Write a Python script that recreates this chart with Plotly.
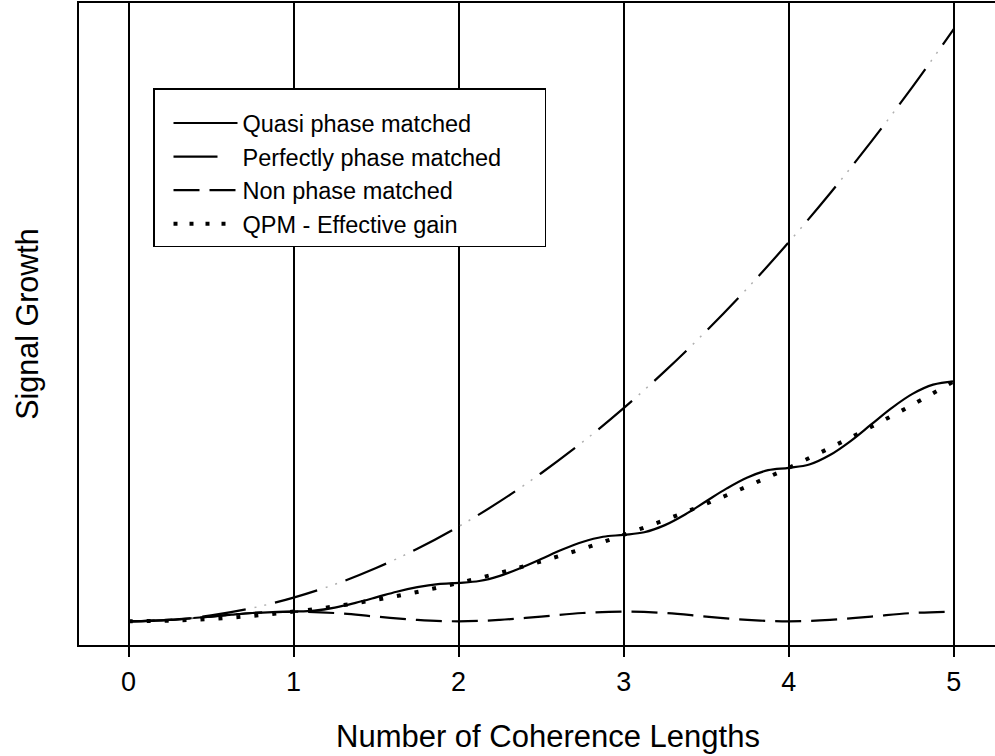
import plotly.graph_objects as go

# Propagation distance in coherence lengths
x_fine = [0, 0.125, 0.25, 0.375, 0.5, 0.625, 0.75, 0.875,
          1, 1.125, 1.25, 1.375, 1.5, 1.625, 1.75, 1.875,
          2, 2.125, 2.25, 2.375, 2.5, 2.625, 2.75, 2.875,
          3, 3.125, 3.25, 3.375, 3.5, 3.625, 3.75, 3.875,
          4, 4.125, 4.25, 4.375, 4.5, 4.625, 4.75, 4.875, 5]
x_coarse = [0, 0.25, 0.5, 0.75, 1, 1.25, 1.5, 1.75, 2, 2.25, 2.5, 2.75,
            3, 3.25, 3.5, 3.75, 4, 4.25, 4.5, 4.75, 5]

# Signal growth curves
quasi_pm = [1.00, 1.02, 1.06, 1.13, 1.20, 1.28, 1.35, 1.39,
            1.41, 1.45, 1.58, 1.78, 2.01, 2.25, 2.44, 2.57,
            2.62, 2.70, 2.92, 3.25, 3.63, 4.02, 4.35, 4.57,
            4.65, 4.76, 5.06, 5.52, 6.07, 6.61, 7.07, 7.38,
            7.48, 7.62, 8.02, 8.61, 9.31, 10.01, 10.60, 10.99, 11.13]
perfect_pm = [1.00, 1.06, 1.25, 1.56, 2.00, 2.56, 3.25, 4.06, 5.00, 6.06, 7.25,
              8.56, 10.00, 11.56, 13.25, 15.06, 17.00, 19.06, 21.25, 23.56, 26.00]
non_pm = [1.00, 1.06, 1.20, 1.35, 1.41, 1.35, 1.20, 1.06, 1.00, 1.06, 1.20,
          1.35, 1.41, 1.35, 1.20, 1.06, 1.00, 1.06, 1.20, 1.35, 1.41]
qpm_effective = [1.00, 1.03, 1.10, 1.23, 1.41, 1.63, 1.91, 2.24, 2.62, 3.05, 3.53,
                 4.06, 4.65, 5.28, 5.96, 6.70, 7.48, 8.32, 9.21, 10.14, 11.13]

x_ticks = [0, 1, 2, 3, 4, 5]
x_tick_labels = ["0", "1", "2", "3", "4", "5"]

FONT = "Liberation Sans, Arial, sans-serif"

fig = go.Figure()

fig.add_trace(go.Scatter(
    x=x_coarse, y=qpm_effective, mode="lines", name="QPM - Effective gain",
    line=dict(color="black", width=4, dash="4px,14px", shape="spline"),
    showlegend=False))
fig.add_trace(go.Scatter(
    x=x_fine, y=quasi_pm, mode="lines", name="Quasi phase matched",
    line=dict(color="black", width=2.2, shape="spline")))
fig.add_trace(go.Scatter(
    x=x_coarse, y=perfect_pm, mode="lines", name="Perfectly phase matched",
    line=dict(color="black", width=2.2, dash="44px,30px", shape="spline")))
# faint double dots between the long dashes
fig.add_trace(go.Scatter(
    x=x_coarse, y=perfect_pm, mode="lines", showlegend=False, hoverinfo="skip",
    line=dict(color="#b0b0b0", width=1.5, dash="0px,53px,2px,8px,2px,9px",
              shape="spline")))
fig.add_trace(go.Scatter(
    x=x_coarse, y=non_pm, mode="lines", name="Non phase matched",
    line=dict(color="black", width=2.2, dash="26px,10px", shape="spline")))
# legend entry for the dotted effective-gain curve
fig.add_trace(go.Scatter(
    x=[None], y=[None], mode="lines", name="QPM - Effective gain",
    line=dict(color="black", width=4, dash="4px,12px")))

# blank legend title: adds top padding and widens the legend box
legend_spacer = "\u00a0" * 154

fig.update_layout(
    width=995, height=756,
    margin=dict(l=79, r=0, t=3, b=111),
    paper_bgcolor="white", plot_bgcolor="white",
    font=dict(family=FONT, color="black"),
    showlegend=True,
    legend=dict(
        x=(153 - 79) / 916, y=(645 - 88) / 642, xanchor="left", yanchor="top",
        bgcolor="white", bordercolor="black", borderwidth=1.5,
        font=dict(family=FONT, size=23.5, color="black"),
        title=dict(text=legend_spacer, font=dict(size=9)),
        itemwidth=64, indentation=14, tracegroupgap=0),
    xaxis=dict(
        range=[-0.3, 5.25], tickmode="array", tickvals=x_ticks,
        ticktext=x_tick_labels, tickfont=dict(size=27), ticklabelstandoff=2,
        showgrid=True, gridcolor="black", gridwidth=1.5,
        ticks="outside", ticklen=10, tickwidth=1.5, tickcolor="black",
        showline=True, linecolor="black", linewidth=1.5, mirror=True,
        zeroline=False),
    yaxis=dict(
        range=[0, 27.1], showgrid=False, showticklabels=False, ticks="",
        showline=True, linecolor="black", linewidth=1.5, zeroline=False,
        title=dict(text="Signal Growth", font=dict(size=30.5), standoff=30)),
    annotations=[dict(
        text="Number of Coherence Lengths", xref="paper", yref="paper",
        x=(548 - 79) / 916, y=-(736 - 645) / 642, xanchor="center",
        yanchor="middle", showarrow=False, font=dict(size=31))],
)

fig.write_html("out.html")
